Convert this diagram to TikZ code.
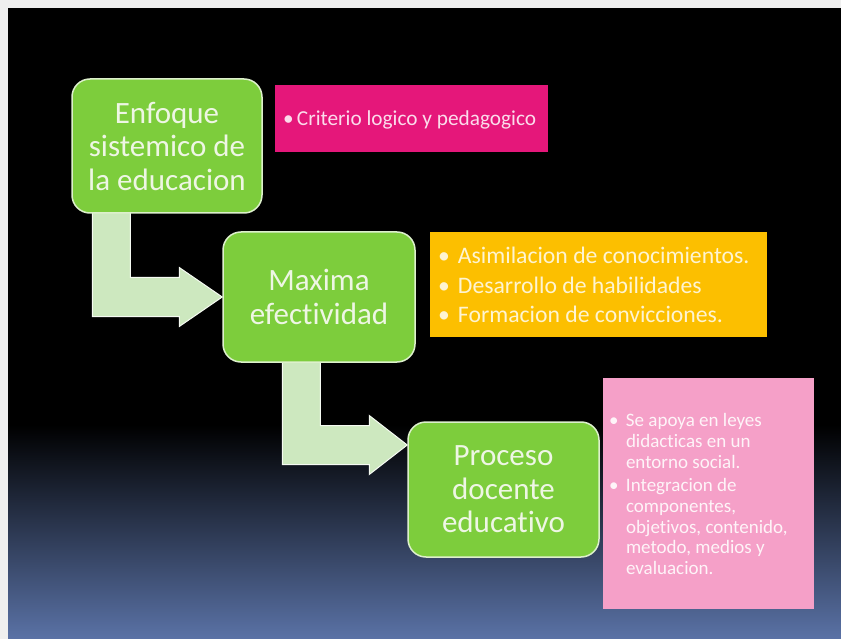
\documentclass[tikz,border=0pt]{standalone}
\usepackage{fontspec}
\setmainfont{Carlito}[Ligatures=NoCommon]
\usetikzlibrary{calc,backgrounds}
\pgfdeclarelayer{slide}
\pgfsetlayers{slide,background,main}
\definecolor{frame}{HTML}{EFEFEF}
\definecolor{boxgreen}{HTML}{7DCD3C}
\definecolor{boxedge}{HTML}{DDF0CC}
\definecolor{arrowfill}{HTML}{CDE8BF}
\definecolor{magentabox}{HTML}{E5177A}
\definecolor{orangebox}{HTML}{FCBF00}
\definecolor{pinkbox}{HTML}{F5A0C8}
\definecolor{bottomblue}{HTML}{5A72A6}
\definecolor{greentext}{HTML}{EEF6E4}
\newcommand\bul[1]{\makebox[#1][l]{\textbullet}}
\begin{document}
\begin{tikzpicture}[x=1pt,y=-1pt,
  stepnode/.style={draw=boxedge, line width=1.5pt, fill=boxgreen, rounded corners=18pt,
    align=center, text=greentext, inner sep=0pt, font=\fontsize{31}{33.5}\selectfont},
  colbox/.style={inner sep=0pt},
  boxtext/.style={inner sep=0pt, anchor=west},
  bentarrow/.style={fill=arrowfill, draw=white!80!arrowfill, line width=1pt, line join=miter}]
\useasboundingbox (0,0) rectangle (841,639);
\begin{pgfonlayer}{slide}
\fill[frame] (0,0) rectangle (841,639);
\fill[black] (8,8) rectangle (841,425);
\shade[top color=black, bottom color=bottomblue] (8,425) rectangle (841,639);
\end{pgfonlayer}

% green steps
\node[stepnode, minimum width=190pt, minimum height=134pt] (b1) at (167,146)
  {Enfoque\\sistemico de\\la educacion};
\node[stepnode, minimum width=192pt, minimum height=130pt] (b2) at (319,297)
  {Maxima\\efectividad};
\node[stepnode, minimum width=191pt, minimum height=135pt] (b3) at (503.5,489.5)
  {Proceso\\docente\\educativo};

% coloured boxes
\node[colbox, fill=magentabox, minimum width=273pt, minimum height=67pt] (m) at (411.5,118.5) {};
\node[boxtext, text=white!85!magentabox, font=\fontsize{21.3}{24}\selectfont] (mt)
  at ($(m.west)+(8,2)$)
  {\begin{tabular}{@{}l@{}}\bul{14pt}Criterio logico y pedagogico\end{tabular}};

\node[colbox, fill=orangebox, minimum width=337pt, minimum height=105pt] (o) at (598.5,284.5) {};
\node[boxtext, text=white!82!orangebox, font=\fontsize{23.7}{29.5}\selectfont] (ot)
  at ($(o.west)+(8,3)$)
  {\begin{tabular}{@{}l@{}}
    \bul{20pt}Asimilacion de conocimientos.\\
    \bul{20pt}Desarrollo de habilidades\\
    \bul{20pt}Formacion de convicciones.
  \end{tabular}};

\node[colbox, fill=pinkbox, minimum width=211pt, minimum height=231pt] (p) at (708.5,493.5) {};
\node[boxtext, text=white!88!pinkbox, font=\fontsize{19}{20.7}\selectfont] (pt)
  at ($(p.west)+(6,3)$)
  {\begin{tabular}{@{}l@{}}
    \bul{17pt}Se apoya en leyes\\
    \hspace{17pt}didacticas en un\\
    \hspace{17pt}entorno social.\\[3pt]
    \bul{17pt}Integracion de\\
    \hspace{17pt}componentes,\\
    \hspace{17pt}objetivos, contenido,\\
    \hspace{17pt}metodo, medios y\\
    \hspace{17pt}evaluacion.
  \end{tabular}};

% bent arrows
\coordinate (t1) at (b2.west);
\coordinate (t2) at ($(b3.west)+(0,-44.5)$);
\begin{scope}[on background layer]
\draw[bentarrow] ($(b1.south west)+(21,-6)$) |- ($(t1)+(-43,19.5)$) -- ($(t1)+(-43,29.5)$)
  -- (t1) -- ($(t1)+(-43,-29.5)$) -- ($(t1)+(-43,-19.5)$) -| ($(b1.south west)+(59,-6)$) -- cycle;
\draw[bentarrow] ($(b2.south west)+(60,-6)$) |- ($(t2)+(-38,19.5)$) -- ($(t2)+(-38,29.5)$)
  -- (t2) -- ($(t2)+(-38,-29.5)$) -- ($(t2)+(-38,-19.5)$) -| ($(b2.south west)+(98,-6)$) -- cycle;
\end{scope}
\end{tikzpicture}
\end{document}
